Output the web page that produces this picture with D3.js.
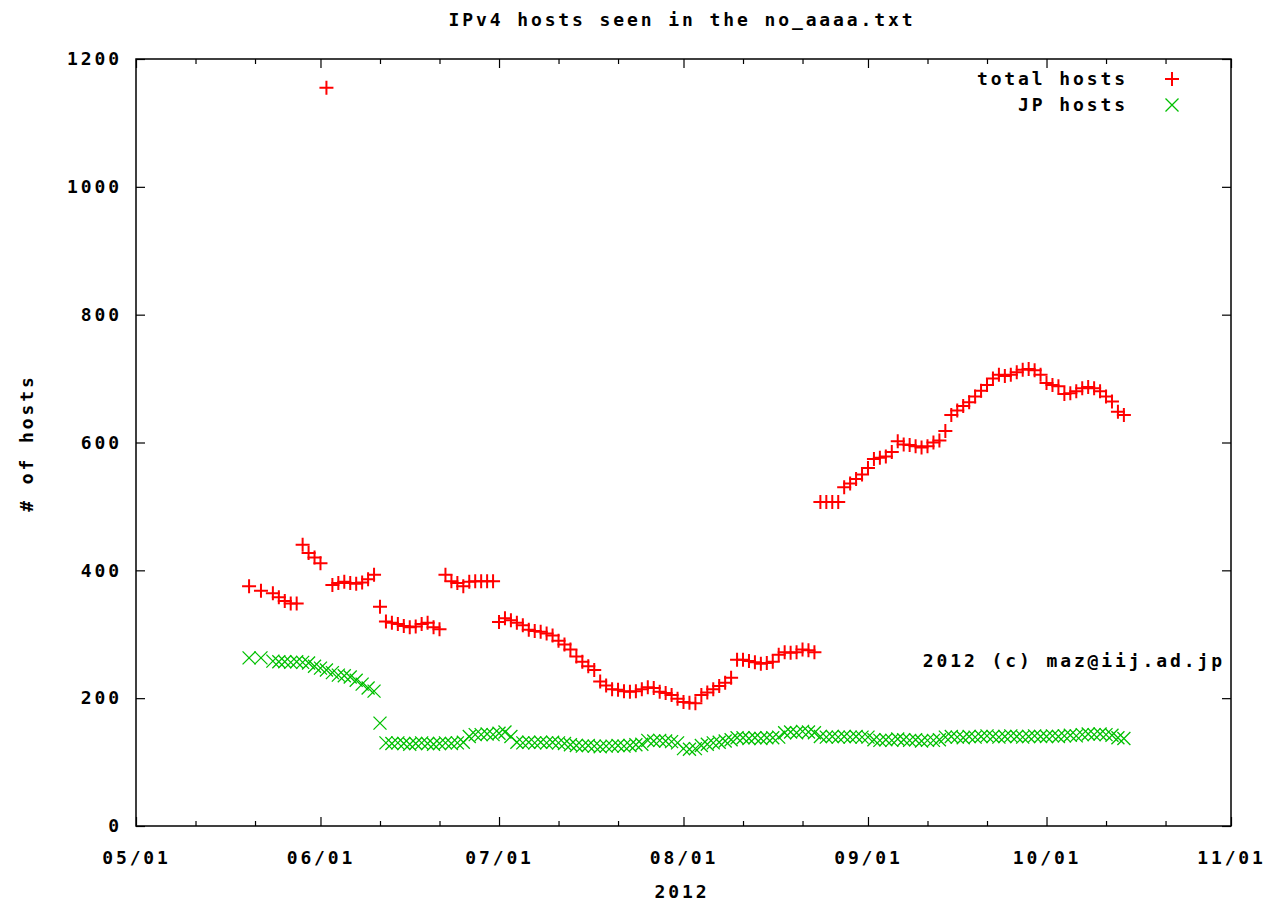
<!DOCTYPE html>
<html>
<head>
<meta charset="utf-8">
<script src="https://cdn.jsdelivr.net/npm/d3@7"></script>
<style>
  body { margin: 0; background: #fff; }
  svg text {
    font-family: "DejaVu Sans Mono", monospace;
    font-weight: bold;
    font-size: 18px;
    letter-spacing: 2.9px;
    fill: #000;
  }
</style>
</head>
<body>
<div id="chart"></div>
<script>
// observation dates: two early samples, then one sample per day
const earlyDates = ["2012-05-20", "2012-05-22"];
const dailyStart = "2012-05-24", dailyEnd = "2012-10-14";

// total hosts, in date order
const totalHosts = [
  375, 368,
  364, 358, 352, 348, 348, 440, 427, 420,
  411, 1155, 377, 380, 382, 380, 379, 381, 386, 393, 343, 320, 318, 316, 313,
  311, 312, 316, 318, 311, 308, 393, 383, 380, 375, 382, 383, 383, 383, 383,
  319, 325, 322, 318, 314, 307, 305, 304, 301, 298, 290, 284, 276, 265, 257, 250,
  244, 226, 220, 214, 213, 211, 210, 211, 214, 217, 216, 210, 208, 205, 199,
  194, 193, 192, 205, 209, 214, 219, 224, 232, 260, 260, 258, 256, 254, 255, 257,
  268, 272, 271, 272, 276, 275, 272, 507, 507, 507, 507, 530, 536, 543, 550,
  560, 574, 576, 578, 585, 602, 597, 596, 594, 592, 594, 600, 603, 618, 643,
  650, 657, 663, 672, 681, 690, 700, 706, 704, 706, 710, 714, 715, 713, 706,
  693, 690, 688, 676, 677, 680, 685, 687, 685, 680, 672, 664, 648, 643
];

// JP hosts, in date order
const jpHosts = [
  263, 263,
  258, 257, 257, 256, 257, 256, 255, 250,
  247, 244, 240, 236, 235, 233, 228, 222, 216, 211, 161, 130, 129, 130, 129,
  128, 129, 130, 129, 128, 129, 130, 129, 130, 131, 140, 143, 143, 144, 143,
  145, 147, 140, 131, 130, 131, 130, 131, 130, 131, 130, 129, 127, 126, 125, 126,
  125, 124, 125, 125, 126, 125, 126, 127, 128, 134, 133, 134, 133, 132, 130,
  121, 120, 121, 126, 128, 130, 131, 133, 135, 138, 138, 137, 138, 137, 138, 138,
  139, 146, 147, 146, 148, 147, 146, 140, 139, 140, 139, 140, 139, 140, 139,
  139, 135, 134, 135, 134, 136, 135, 134, 135, 133, 134, 134, 135, 139, 140,
  139, 138, 140, 139, 140, 141, 140, 139, 140, 141, 140, 139, 140, 141, 140,
  140, 141, 140, 141, 142, 141, 143, 144, 143, 144, 143, 142, 138, 137
];

const monthTicks = ["2012-05-01", "2012-06-01", "2012-07-01", "2012-08-01",
  "2012-09-01", "2012-10-01", "2012-11-01"];
const minorTicks = ["2012-05-11", "2012-05-21", "2012-06-11", "2012-06-21",
  "2012-07-11", "2012-07-21", "2012-08-11", "2012-08-21", "2012-09-11",
  "2012-09-21", "2012-10-11", "2012-10-21"];
const yTicks = [0, 200, 400, 600, 800, 1000, 1200];

const parse = d3.timeParse("%Y-%m-%d");
const dates = earlyDates.map(parse).concat(
  d3.timeDay.range(parse(dailyStart), d3.timeDay.offset(parse(dailyEnd), 1)));

// set the dimensions and margins of the graph
const margin = { top: 59, right: 39, bottom: 78, left: 136 },
  width = 1270 - margin.left - margin.right,
  height = 904 - margin.top - margin.bottom;

const svgRoot = d3.select("#chart").append("svg")
  .attr("width", 1270)
  .attr("height", 904);

const svg = svgRoot.append("g")
  .attr("transform", `translate(${margin.left},${margin.top})`);

const x = d3.scaleTime()
  .domain([parse(monthTicks[0]), parse(monthTicks[monthTicks.length - 1])])
  .range([0, width]);
const y = d3.scaleLinear().domain([0, 1200]).range([height, 0]);

const noDomain = (a) => a.select(".domain").remove();

// bottom axis with labels, plus minor ticks
svg.append("g")
  .attr("transform", `translate(0,${height})`)
  .call(d3.axisBottom(x).tickValues(monthTicks.map(parse))
    .tickFormat(d3.timeFormat("%m/%d")).tickSize(-9).tickPadding(25))
  .call(noDomain);
svg.append("g")
  .attr("transform", `translate(0,${height})`)
  .call(d3.axisBottom(x).tickValues(minorTicks.map(parse)).tickFormat("").tickSize(-5))
  .call(noDomain);

// mirrored ticks on top
svg.append("g")
  .call(d3.axisTop(x).tickValues(monthTicks.map(parse)).tickFormat("").tickSize(-9))
  .call(noDomain);
svg.append("g")
  .call(d3.axisTop(x).tickValues(minorTicks.map(parse)).tickFormat("").tickSize(-5))
  .call(noDomain);

// left axis with labels, mirrored on the right
svg.append("g")
  .call(d3.axisLeft(y).tickValues(yTicks).tickFormat(d3.format("d"))
    .tickSize(-9).tickPadding(14))
  .call(noDomain);
svg.append("g")
  .attr("transform", `translate(${width},0)`)
  .call(d3.axisRight(y).tickValues(yTicks).tickFormat("").tickSize(-9))
  .call(noDomain);

svg.selectAll(".tick line").attr("stroke", "#000").attr("stroke-width", 1.2);

// frame
svg.append("rect")
  .attr("width", width)
  .attr("height", height)
  .attr("fill", "none")
  .attr("stroke", "#000")
  .attr("stroke-width", 1.5);

const plus = "M-7,0H7M0,-7V7";
const cross = "M-6.5,-6.5L6.5,6.5M-6.5,6.5L6.5,-6.5";
const red = "#ff0000", green = "#00c000";

// points
svg.append("g")
  .selectAll("path")
  .data(dates.map((d, i) => ({ d, v: totalHosts[i] })))
  .join("path")
  .attr("transform", (p) => `translate(${x(p.d)},${y(p.v)})`)
  .attr("d", plus)
  .attr("fill", "none")
  .attr("stroke", red)
  .attr("stroke-width", 2);

svg.append("g")
  .selectAll("path")
  .data(dates.map((d, i) => ({ d, v: jpHosts[i] })))
  .join("path")
  .attr("transform", (p) => `translate(${x(p.d)},${y(p.v)})`)
  .attr("d", cross)
  .attr("fill", "none")
  .attr("stroke", green)
  .attr("stroke-width", 1.3);

// legend
const legend = [
  { label: "total hosts", mark: plus, color: red, w: 2 },
  { label: "JP hosts", mark: cross, color: green, w: 1.3 }
];
legend.forEach((l, i) => {
  const ly = 79 + i * 26;
  svgRoot.append("text")
    .attr("x", 1128)
    .attr("y", ly)
    .attr("dy", "0.36em")
    .attr("text-anchor", "end")
    .text(l.label);
  svgRoot.append("path")
    .attr("transform", `translate(1172,${ly})`)
    .attr("d", l.mark)
    .attr("fill", "none")
    .attr("stroke", l.color)
    .attr("stroke-width", l.w);
});

// titles and notes
svgRoot.append("text")
  .attr("x", 682).attr("y", 20).attr("dy", "0.36em")
  .attr("text-anchor", "middle")
  .text("IPv4 hosts seen in the no_aaaa.txt");

svgRoot.append("text")
  .attr("x", 682).attr("y", 892).attr("dy", "0.36em")
  .attr("text-anchor", "middle")
  .text("2012");

svgRoot.append("text")
  .attr("transform", "translate(27,443) rotate(-90)")
  .attr("dy", "0.36em")
  .attr("text-anchor", "middle")
  .text("# of hosts");

svgRoot.append("text")
  .attr("x", 1225).attr("y", 661).attr("dy", "0.36em")
  .attr("text-anchor", "end")
  .text("2012 (c) maz@iij.ad.jp");
</script>
</body>
</html>
